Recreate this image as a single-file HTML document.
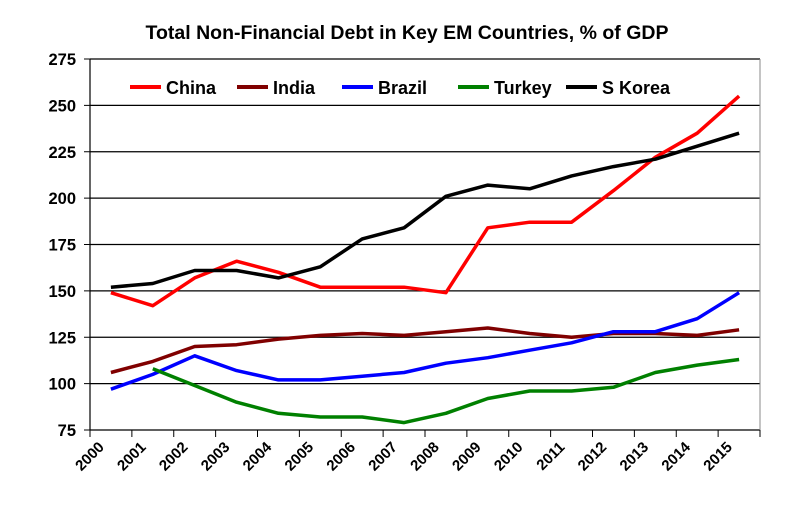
<!DOCTYPE html>
<html><head><meta charset="utf-8"><style>
body{margin:0;background:#fff;}
svg text{font-family:"Liberation Sans",Arial,sans-serif;font-weight:bold;}
</style></head><body>
<svg id="chart" width="804" height="502" xmlns="http://www.w3.org/2000/svg">
<text x="407" y="39" text-anchor="middle" font-size="19.5">Total Non-Financial Debt in Key EM Countries, % of GDP</text>
<g id="grid"></g><g id="axes"></g><g id="series"></g><g id="legend"></g>
</svg>
<script>
const years=["2000","2001","2002","2003","2004","2005","2006","2007","2008","2009","2010","2011","2012","2013","2014","2015"];
const yTicks=[75,100,125,150,175,200,225,250,275];
const china=[149,142,157,166,160,152,152,152,149,184,187,187,204,222,235,255];
const india=[106,112,120,121,124,126,127,126,128,130,127,125,127,127,126,129];
const brazil=[97,105,115,107,102,102,104,106,111,114,118,122,128,128,135,149];
const turkey=[null,108,99,90,84,82,82,79,84,92,96,96,98,106,110,113];
const korea=[152,154,161,161,157,163,178,184,201,207,205,212,217,221,228,235];
const names=["China","India","Brazil","Turkey","S Korea"];
const colors=["#ff0000","#800000","#0000ff","#008000","#000000"];
const allSeries=[china,india,brazil,turkey,korea];
const L=90,R=760,T=59,B=430,ymin=75,ymax=275;
const step=(R-L)/years.length;
const X=i=>L+step*(i+0.5);
const Y=v=>B-(v-ymin)/(ymax-ymin)*(B-T);
const NS="http://www.w3.org/2000/svg";
function mk(tag,attrs,parent){const e=document.createElementNS(NS,tag);for(const k in attrs)e.setAttribute(k,attrs[k]);document.getElementById(parent).appendChild(e);return e;}
yTicks.forEach(v=>{
 const g=mk("line",{x1:L,x2:R,y1:Y(v),y2:Y(v),stroke:"#000","stroke-width":1.2},"grid");
 
 
 const t=mk("line",{x1:L-6,x2:L,y1:Y(v),y2:Y(v),stroke:"#000"},"axes");
 
 
 const lb=mk("text",{x:L-14,y:Y(v)+6,"text-anchor":"end","font-size":16.5},"axes");
 lb.textContent=v;
 
 
});
const ax=mk("line",{x1:L,x2:L,y1:T,y2:B,stroke:"#000","stroke-width":1.2},"axes");


const rb=mk("line",{x1:R,x2:R,y1:T,y2:B,stroke:"#888","stroke-width":1},"axes");


for(let i=0;i<=years.length;i++){
 const t=mk("line",{x1:L+step*i,x2:L+step*i,y1:B,y2:B+7,stroke:"#000"},"axes");
 
 
}
years.forEach((yr,i)=>{
 const cx=X(i)-6,cy=B+18;
 const lb=mk("text",{x:cx,y:cy,"text-anchor":"end","font-size":15,transform:`rotate(-45 ${cx} ${cy})`},"axes");
 lb.textContent=yr;
 
 
});
allSeries.forEach((s,k)=>{
 const pts=[];s.forEach((v,i)=>{if(v!==null)pts.push(X(i).toFixed(1)+","+Y(v).toFixed(1));});
 const p=mk("polyline",{points:pts.join(" "),fill:"none",stroke:colors[k],"stroke-width":3.5,"stroke-linejoin":"round"},"series");
 
 
});
const lx=[130,237,342,458,566];
names.forEach((n,k)=>{
 const l=mk("line",{x1:lx[k],x2:lx[k]+31,y1:87,y2:87,stroke:colors[k],"stroke-width":4},"legend");
 
 
 const t=mk("text",{x:lx[k]+36,y:94,"font-size":18},"legend");
 t.textContent=n;
 
 
});
</script>
</body></html>
